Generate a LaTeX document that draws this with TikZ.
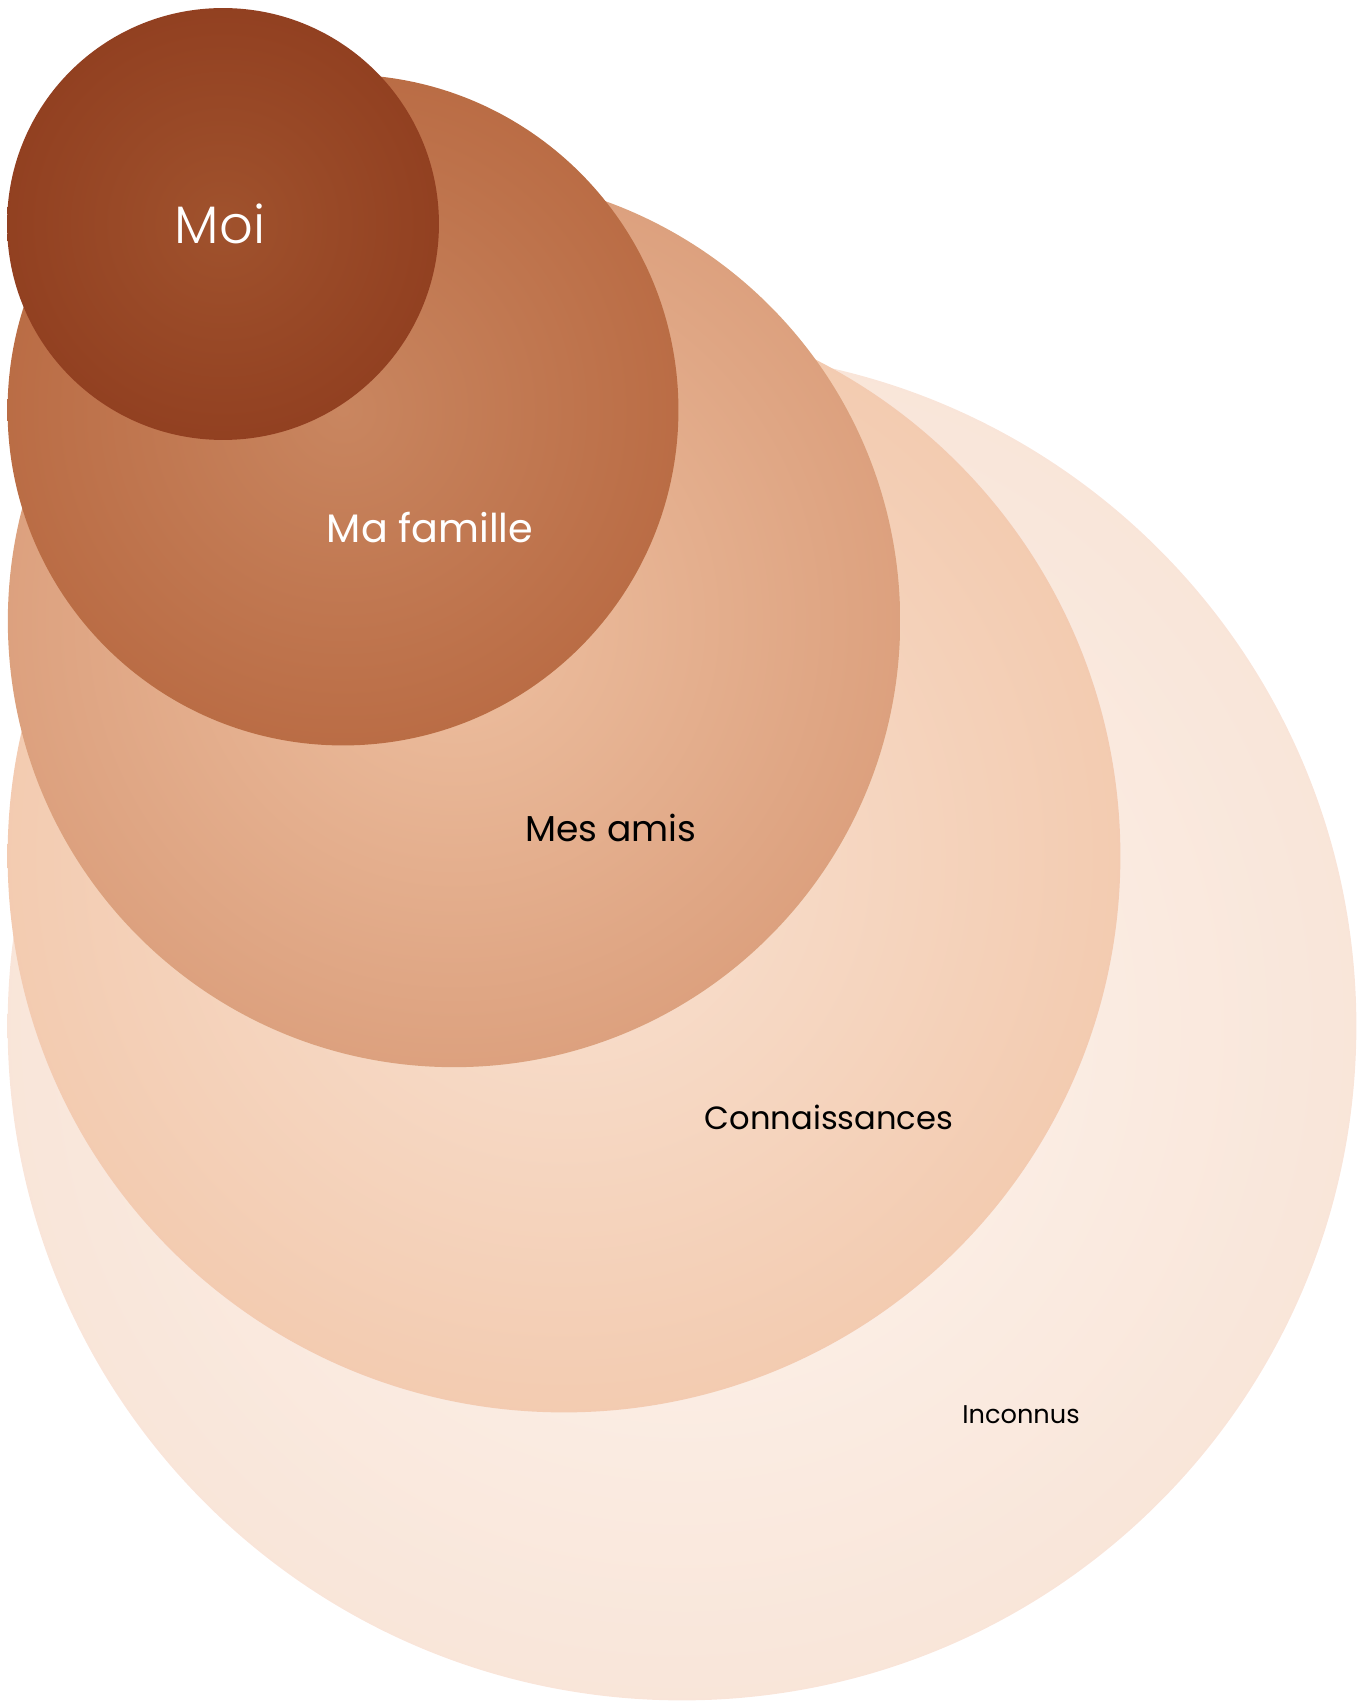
\documentclass[tikz,border=0pt]{standalone}
\usepackage{fontspec}
\setmainfont{Poppins}
\newfontfamily\moifont{Poppins Light}
\usepackage{xcolor}
\definecolor{moiIn}{HTML}{A0522D}
\definecolor{moiOut}{HTML}{8C391C}
\definecolor{famIn}{HTML}{C98660}
\definecolor{famOut}{HTML}{B4623A}
\definecolor{amisIn}{HTML}{EEC0A1}
\definecolor{amisOut}{HTML}{D59470}
\definecolor{connIn}{HTML}{F9E2D2}
\definecolor{connOut}{HTML}{F0C2A3}
\definecolor{incIn}{HTML}{FDF5EF}
\definecolor{incOut}{HTML}{F7DFD0}
\usepackage{tikz}
\usetikzlibrary{shapes,positioning}

% one radial fill per circle, light in the middle, edge colour reached at the rim
\pgfdeclareradialshading{moiShade}{\pgfpoint{0bp}{0bp}}{color(0bp)=(moiIn); color(35.35bp)=(moiOut); color(50bp)=(moiOut)}
\pgfdeclareradialshading{famShade}{\pgfpoint{0bp}{0bp}}{color(0bp)=(famIn); color(35.35bp)=(famOut); color(50bp)=(famOut)}
\pgfdeclareradialshading{amisShade}{\pgfpoint{0bp}{0bp}}{color(0bp)=(amisIn); color(35.35bp)=(amisOut); color(50bp)=(amisOut)}
\pgfdeclareradialshading{connShade}{\pgfpoint{0bp}{0bp}}{color(0bp)=(connIn); color(35.35bp)=(connOut); color(50bp)=(connOut)}
\pgfdeclareradialshading{incShade}{\pgfpoint{0bp}{0bp}}{color(0bp)=(incIn); color(35.35bp)=(incOut); color(50bp)=(incOut)}

\tikzset{
    ring/.style={
        circle,
        inner sep=0pt,
        outer sep=0pt
    },
    lightlabel/.style={
        anchor=base,
        inner sep=0pt,
        text=white
    },
    darklabel/.style={
        anchor=base,
        inner sep=0pt,
        text=black
    }
}

\begin{document}
\begin{tikzpicture}[x=0.02cm, y=-0.02cm]
    \useasboundingbox (0,0) rectangle (1366,1702);

    % circles, biggest first
    \node[ring, shading=incShade, minimum size=26.98cm] (inconnus) at (682,1026) {};
    \node[ring, shading=connShade, minimum size=22.26cm] (connaissances) at (564,856) {};
    \node[ring, shading=amisShade, minimum size=17.85cm] (amis) at (454,621) {};
    \node[ring, shading=famShade, minimum size=13.42cm] (famille) at (343,410) {};
    \node[ring, shading=moiShade, minimum size=8.64cm] (moi) at (223,224) {};

    % labels
    \node[lightlabel, font=\moifont\fontsize{30}{35}\selectfont] (lblMoi) at (220,244) {Moi};
    \node[lightlabel, font=\fontsize{22.6}{27}\selectfont] (lblFamille) at (430,542) {Ma famille};
    \node[darklabel, font=\fontsize{20.5}{24}\selectfont] (lblAmis) at (611,841) {Mes amis};
    \node[darklabel, font=\fontsize{18.3}{22}\selectfont] (lblConn) at (829,1129) {Connaissances};
    \node[darklabel, font=\fontsize{14.6}{17}\selectfont] (lblInc) at (1021,1423) {Inconnus};
\end{tikzpicture}
\end{document}
